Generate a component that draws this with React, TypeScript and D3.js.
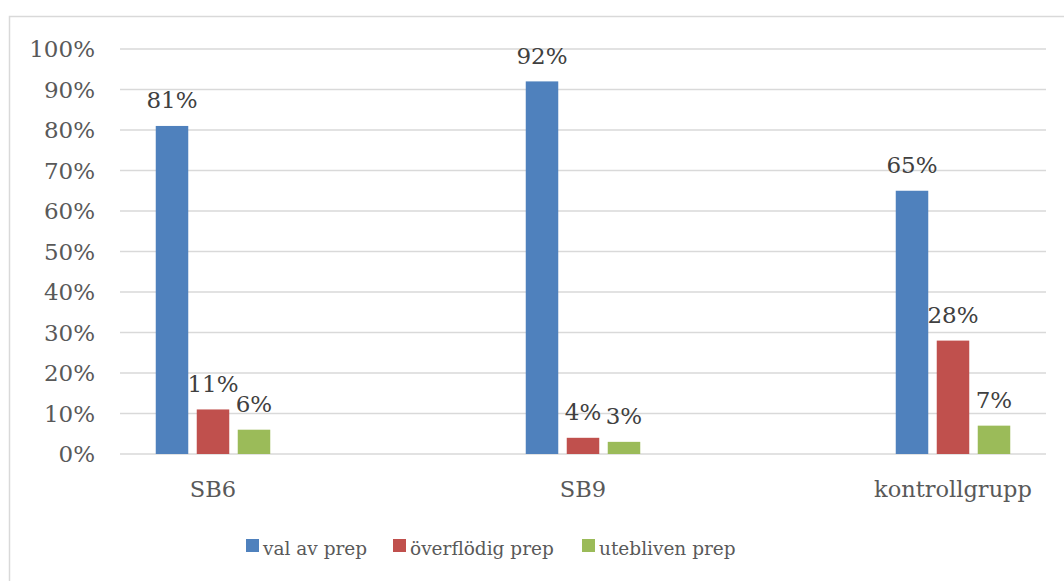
import React from "react";
import * as d3 from "d3";

const categories = ["SB6", "SB9", "kontrollgrupp"];
const seriesNames = ["val av prep", "överflödig prep", "utebliven prep"];
const valAvPrep = [0.81, 0.92, 0.65];
const overflodigPrep = [0.11, 0.04, 0.28];
const uteblivenPrep = [0.06, 0.03, 0.07];
const yTicks = [0, 0.1, 0.2, 0.3, 0.4, 0.5, 0.6, 0.7, 0.8, 0.9, 1.0];
const colors = ["#4F81BD", "#C0504D", "#9BBB59"];

const W = 1064;
const H = 581;
const FONT = "'DejaVu Serif', serif";

export default function App() {
  const series = [valAvPrep, overflodigPrep, uteblivenPrep];
  const plotLeft = 120;
  const plotRight = 1046;
  const y = d3.scaleLinear().domain([0, 1]).range([454, 49]);
  const x = d3.scalePoint<string>().domain(categories).range([213, 953]);
  const inner = d3
    .scaleBand<number>()
    .domain([0, 1, 2])
    .range([-57.25, 57.25])
    .paddingInner(0.207)
    .paddingOuter(0);
  const fmt = d3.format(".0%");

  const legendX = d3.scaleOrdinal<string, number>().domain(seriesNames).range([246, 393, 582]);

  return (
    <svg
      width={W}
      height={H}
      style={{ position: "absolute", left: 0, top: 0, background: "#fff" }}
      fontFamily={FONT}
    >
      <rect x={9.5} y={16.5} width={W + 20} height={H + 20} fill="#fff" stroke="#D9D9D9" strokeWidth={1.5} />
      {yTicks.map((t) => (
        <g key={t}>
          <line x1={plotLeft} x2={plotRight} y1={y(t)} y2={y(t)} stroke="#D9D9D9" strokeWidth={1.5} />
          <text x={95} y={y(t)} dy="0.36em" textAnchor="end" fontSize={23} fill="#595959">
            {fmt(t)}
          </text>
        </g>
      ))}
      {categories.map((c, ci) => (
        <g key={c}>
          {series.map((s, si) => {
            const bx = (x(c) as number) + (inner(si) as number);
            const bw = inner.bandwidth();
            return (
              <g key={si}>
                <rect x={bx} y={y(s[ci])} width={bw} height={y(0) - y(s[ci])} fill={colors[si]} />
                <text
                  x={bx + bw / 2}
                  y={y(s[ci]) - 17.5}
                  textAnchor="middle"
                  fontSize={23}
                  fill="#404040"
                >
                  {fmt(s[ci])}
                </text>
              </g>
            );
          })}
          <text x={x(c) as number} y={497} textAnchor="middle" fontSize={22.5} fill="#595959">
            {c}
          </text>
        </g>
      ))}
      {seriesNames.map((n, i) => (
        <g key={n}>
          <rect x={legendX(n)} y={539} width={13} height={13} fill={colors[i]} />
          <text x={legendX(n) + 17} y={555} fontSize={18.5} fill="#595959">
            {n}
          </text>
        </g>
      ))}
    </svg>
  );
}
